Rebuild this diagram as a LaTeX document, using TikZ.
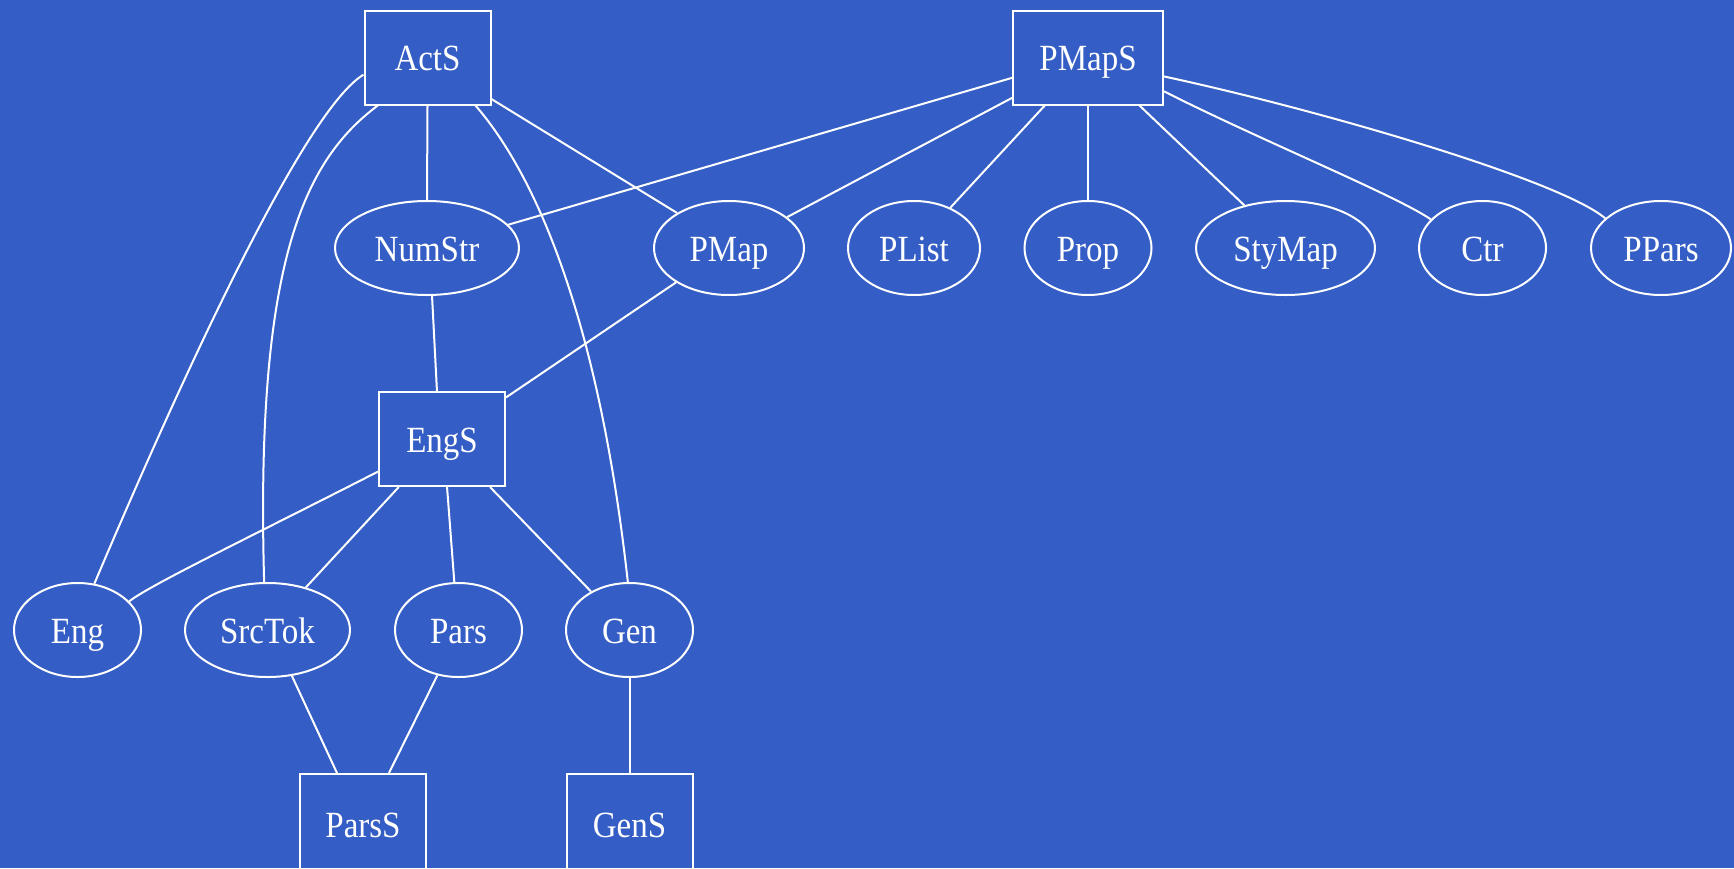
\documentclass[tikz,border=0pt]{standalone}
\usepackage{fontspec}
\usepackage{graphicx}
\setmainfont{Liberation Serif}
\usetikzlibrary{shapes.geometric}
\definecolor{bgblue}{RGB}{52,94,197}
\newcommand{\vstr}[1]{\scalebox{1}[1.12]{#1}}
\tikzset{
  gtext/.style={text=white, font=\fontsize{33}{40}\selectfont, text height=32pt, text depth=6pt, inner sep=0pt},
  gbox/.style={gtext, draw=white, line width=2pt, rectangle, minimum width=126pt, minimum height=94pt},
  gell/.style={gtext, draw=white, line width=2pt, ellipse, minimum height=94pt},
  conn/.style={draw=white, line width=2pt}
}
\begin{document}
\begin{tikzpicture}[x=1pt,y=-1pt]
\fill[bgblue] (0,0) rectangle (1734,868);
\useasboundingbox (0,0) rectangle (1734,868);

% boxes
\node[gbox] (ActS) at (427.5,57.5) {\vstr{ActS}};
\node[gbox, minimum width=150pt] (PMapS) at (1088,57.5) {\vstr{PMapS}};
\node[gbox] (EngS) at (442,439) {\vstr{EngS}};
\node[gbox, minimum height=100pt] (ParsS) at (363,824) {\vstr{ParsS}};
\node[gbox, minimum height=100pt] (GenS) at (629.5,824) {\vstr{GenS}};

% ellipses
\node[gell, minimum width=184pt] (NumStr) at (427,248) {\vstr{NumStr}};
\node[gell, minimum width=150pt] (PMap) at (729,248) {\vstr{PMap}};
\node[gell, minimum width=132pt] (PList) at (914,248) {\vstr{PList}};
\node[gell, minimum width=127pt] (Prop) at (1088,248) {\vstr{Prop}};
\node[gell, minimum width=179pt] (StyMap) at (1285.5,248) {\vstr{StyMap}};
\node[gell, minimum width=127pt] (Ctr) at (1482.5,248) {\vstr{Ctr}};
\node[gell, minimum width=140pt] (PPars) at (1661,248) {\vstr{PPars}};
\node[gell, minimum width=127pt] (Eng) at (77.5,630) {\vstr{Eng}};
\node[gell, minimum width=165pt] (SrcTok) at (267.5,630) {\vstr{SrcTok}};
\node[gell, minimum width=127pt] (Pars) at (458.5,630) {\vstr{Pars}};
\node[gell, minimum width=127pt] (Gen) at (629.5,630) {\vstr{Gen}};

% connectors from ActS
\draw[conn] (ActS.195) .. controls (305,110) and (185,370) .. (Eng.70);
\draw[conn] (ActS.224) .. controls (305,160) and (255,260) .. (SrcTok.94);
\draw[conn] (ActS.south) -- (NumStr.north);
\draw[conn] (ActS.-45) .. controls (540,180) and (600,330) .. (Gen.92);
\draw[conn] (ActS.-33) -- (PMap.146);

% connectors from PMapS
\draw[conn] (PMapS.195) -- (NumStr.16);
\draw[conn] (PMapS.208) -- (PMap.28);
\draw[conn] (PMapS.228) -- (PList.48);
\draw[conn] (PMapS.south) -- (Prop.north);
\draw[conn] (PMapS.-43) -- (StyMap.134);
\draw[conn] (PMapS.-24.5) .. controls (1260,140) and (1395,195) .. (Ctr.151);
\draw[conn] (PMapS.-14.5) .. controls (1320,110) and (1560,180) .. (PPars.152);

% middle
\draw[conn] (NumStr.-84) -- (EngS.96);
\draw[conn] (PMap.213) -- (EngS.33);

% from EngS
\draw[conn] (EngS.207) .. controls (250,537) and (150,585) .. (Eng.29);
\draw[conn] (EngS.228) -- (SrcTok.48);
\draw[conn] (EngS.-84) -- (Pars.95);
\draw[conn] (EngS.-45) -- (Gen.135);

% bottom
\draw[conn] (SrcTok.-62) -- (ParsS.117);
\draw[conn] (Pars.245) -- (ParsS.63);
\draw[conn] (Gen.south) -- (GenS.north);
\end{tikzpicture}
\end{document}
